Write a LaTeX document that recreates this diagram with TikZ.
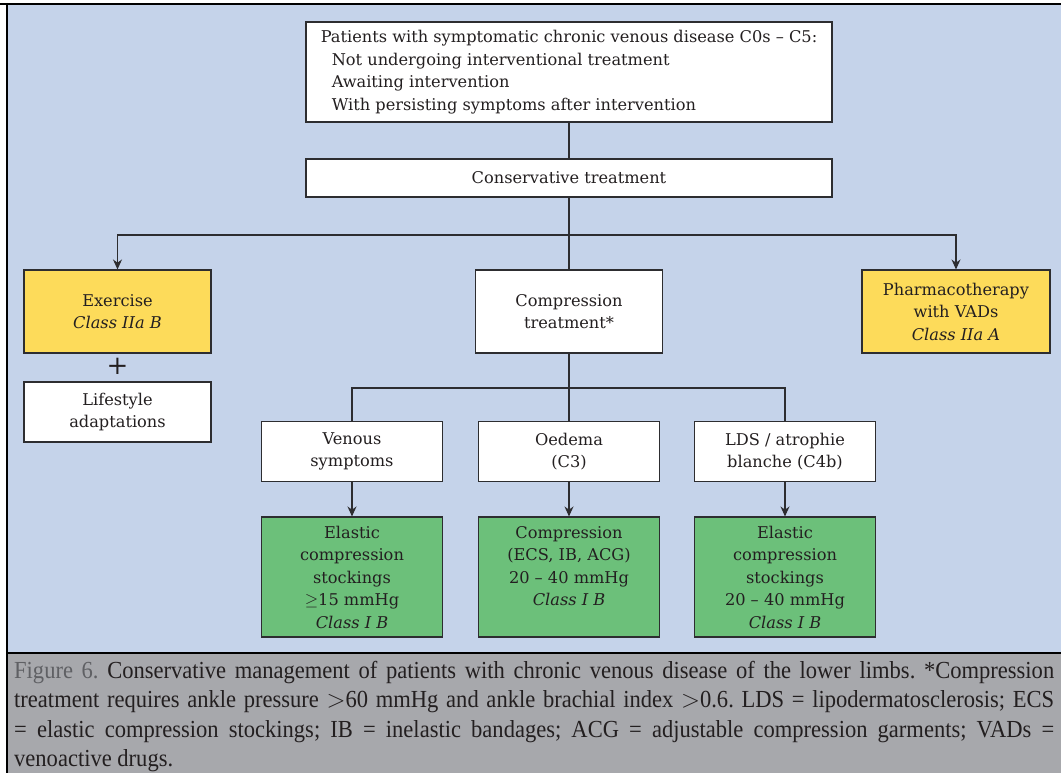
\documentclass[tikz,border=0pt]{standalone}
\usepackage{fontspec}
\setmainfont{DejaVu Serif}
\newfontfamily\capfont{Liberation Serif}[FakeStretch=0.92]
\usetikzlibrary{arrows.meta}
\definecolor{bgblue}{RGB}{197,211,234}
\definecolor{boxyellow}{RGB}{253,219,90}
\definecolor{boxgreen}{RGB}{108,192,122}
\definecolor{capgray}{RGB}{167,168,172}
\definecolor{figgray}{RGB}{95,96,100}
\definecolor{ink}{RGB}{35,31,32}
\definecolor{linegray}{RGB}{45,45,48}
\begin{document}
\begin{tikzpicture}[x=1pt,y=-1pt,
  box/.style={draw=linegray, line width=1.1pt, fill=white, inner sep=0pt, align=center,
    text=ink, font=\fontsize{16.2}{22.5}\selectfont},
  ybox/.style={box, fill=boxyellow},
  gbox/.style={box, fill=boxgreen},
  conn/.style={draw=linegray, line width=1.1pt},
  arr/.style={conn, -{Stealth[length=10pt,width=9pt]}}
]
\useasboundingbox (0,0) rectangle (1061,773);
% backgrounds
\fill[bgblue] (7,4) rectangle (1061,653);
\fill[capgray] (7,653) rectangle (1061,773);
\draw[black, line width=2.5pt] (0,4) -- (1061,4);
\draw[black, line width=2pt] (7,3) -- (7,773);
\draw[black, line width=1.5pt] (7,653) -- (1061,653);

% nodes
\node[box, minimum width=526, minimum height=100] (top) at (569,72)
  [align=left] {Patients with symptomatic chronic venous disease C0s -- C5:\\
  \hspace*{11pt}Not undergoing interventional treatment\\
  \hspace*{11pt}Awaiting intervention\\
  \hspace*{11pt}With persisting symptoms after intervention};
\node[box, minimum width=526, minimum height=38] (cons) at (569,178) {Conservative treatment};
\node[ybox, minimum width=187, minimum height=83] (exer) at (117.5,311.5) {Exercise\\\textit{Class IIa B}};
\node[box, minimum width=187, minimum height=83] (comp) at (569,311.5) {Compression\\treatment*};
\node[ybox, minimum width=188, minimum height=83] (pharm) at (956,311.5) {Pharmacotherapy\\with VADs\\\textit{Class IIa A}};
\node[text=ink, font=\fontsize{26}{26}\selectfont, inner sep=0pt] (plus) at (117.5,366) {+};
\node[box, minimum width=187, minimum height=60] (life) at (117.5,412) {Lifestyle\\adaptations};
\node[box, minimum width=181, minimum height=60] (ven) at (352,451.5) {Venous\\symptoms};
\node[box, minimum width=181, minimum height=60] (oed) at (569,451.5) {Oedema\\(C3)};
\node[box, minimum width=181, minimum height=60] (lds) at (785,451.5) {LDS / atrophie\\blanche (C4b)};
\node[gbox, minimum width=181, minimum height=120] (g1) at (352,577) {Elastic\\compression\\stockings\\$\geq$15 mmHg\\\textit{Class I B}};
\node[gbox, minimum width=181, minimum height=120] (g2) at (569,577) {Compression\\(ECS, IB, ACG)\\20 -- 40 mmHg\\\textit{Class I B}\\\mbox{}};
\node[gbox, minimum width=181, minimum height=120] (g3) at (785,577) {Elastic\\compression\\stockings\\20 -- 40 mmHg\\\textit{Class I B}};

% connectors
\draw[conn] (top) -- (cons);
\coordinate (j1) at (569,235);
\draw[conn] (cons.south) -- (j1) -- (comp.north);
\draw[arr] (j1) -| (exer.north);
\draw[arr] (j1) -| (pharm.north);
\coordinate (j2) at (569,388);
\draw[conn] (comp.south) -- (j2) -- (oed.north);
\draw[conn] (j2) -| (ven.north);
\draw[conn] (j2) -| (lds.north);
\draw[arr] (ven) -- (g1);
\draw[arr] (oed) -- (g2);
\draw[arr] (lds) -- (g3);

% caption
\node[anchor=north west, inner sep=0pt, text width=1040pt, align=justify, text=ink,
  font=\capfont\fontsize{24.5}{29.5}\selectfont\frenchspacing] (cap) at (14,661)
  {\textcolor{figgray}{Figure 6.} Conservative management of patients with chronic venous disease of the lower limbs. *Compression\linebreak
  treatment requires ankle pressure ${>}$60 mmHg and ankle brachial index ${>}$0.6. LDS = lipodermatosclerosis; ECS\linebreak
  = elastic compression stockings; IB = inelastic bandages; ACG = adjustable compression garments; VADs =\linebreak
  venoactive drugs.};
\end{tikzpicture}
\end{document}
